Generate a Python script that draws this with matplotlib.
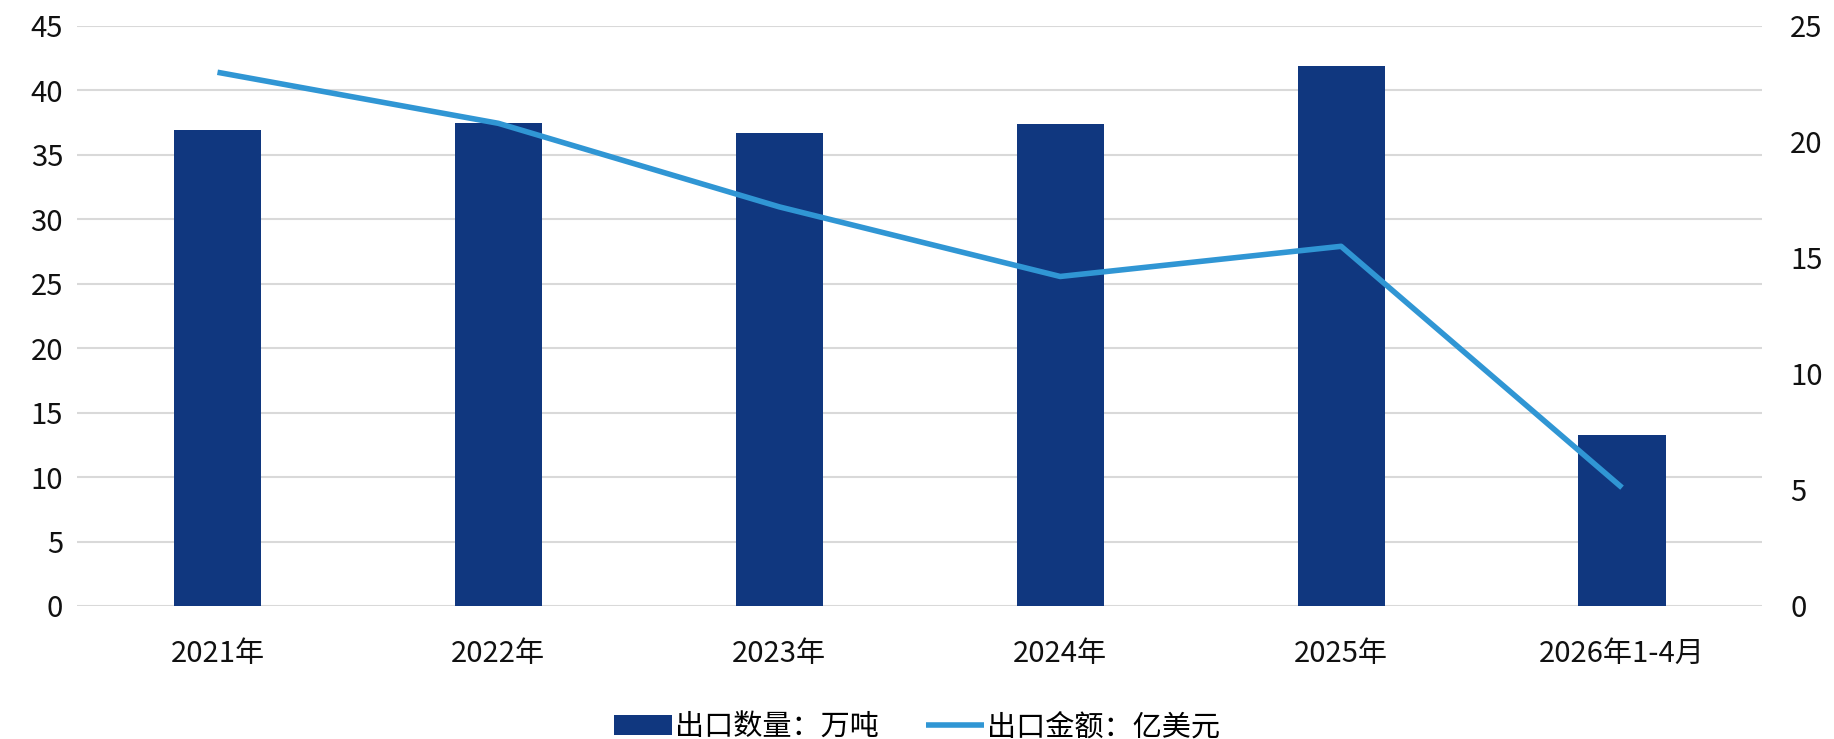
import matplotlib
matplotlib.use("Agg")
import matplotlib.pyplot as plt
import numpy as np

plt.rcParams['font.family'] = ['Noto Sans CJK SC', 'DejaVu Sans']

categories = ["2021年", "2022年", "2023年", "2024年", "2025年", "2026年1-4月"]
volume = [36.9, 37.5, 36.7, 37.4, 41.9, 13.3]   # 出口数量：万吨
value = [23.0, 20.8, 17.2, 14.2, 15.5, 5.1]      # 出口金额：亿美元

bar_color = "#10377F"
line_color = "#3096D4"
grid_color = "#D9D9D9"

fig = plt.figure(figsize=(18.34, 7.39), dpi=100)
ax = fig.add_axes([0.042, 0.18, 0.919, 0.785])
ax2 = ax.twinx()

x = np.arange(len(categories))
ax.bar(x, volume, width=0.31, color=bar_color, label="出口数量：万吨", zorder=2)
ax2.plot(x, value, color=line_color, linewidth=4, label="出口金额：亿美元",
         solid_capstyle="butt", zorder=3)

ax.set_xlim(-0.5, len(categories) - 0.5)
ax.set_ylim(0, 45)
ax.set_yticks(range(0, 46, 5))
ax2.set_ylim(0, 25)
ax2.set_yticks(range(0, 26, 5))

ax.yaxis.grid(True, color=grid_color, linewidth=1.5, zorder=0)
ax.set_axisbelow(True)
for a in (ax, ax2):
    for s in a.spines.values():
        s.set_visible(False)
    a.tick_params(length=0, labelsize=21, colors="#111111")

ax.set_xticks(x)
ax.set_xticklabels(categories)
ax.tick_params(axis="x", pad=24)
ax.tick_params(axis="y", pad=10)
ax2.tick_params(axis="y", pad=20)

h1, l1 = ax.get_legend_handles_labels()
h2, l2 = ax2.get_legend_handles_labels()
fig.legend(h1 + h2, l1 + l2, loc="lower center", bbox_to_anchor=(0.5, -0.04),
           ncol=2, frameon=False, fontsize=21, handlelength=2.0,
           handletextpad=0.1, columnspacing=1.6)

fig.savefig("out.png", dpi=100)
